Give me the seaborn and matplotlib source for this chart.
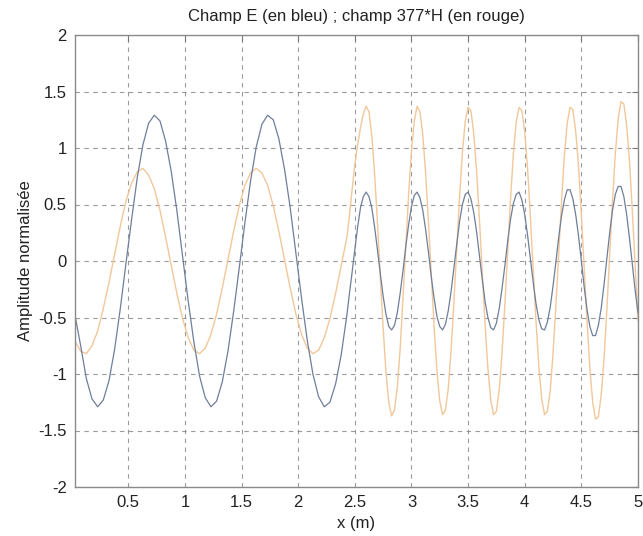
import numpy as np
import pandas as pd
import matplotlib
matplotlib.use('Agg')
import matplotlib.pyplot as plt
import seaborn as sns

# sample positions (m): coarse grid in the first medium, finer grid after x = 2.45
x_left = np.round(np.arange(0.03, 2.44, 0.05), 3)
x_right = np.round(np.arange(2.45, 5.001, 0.025), 3)

# champ E (bleu)
E_left = [-0.48, -0.75, -1.04, -1.22, -1.29, -1.23, -1.06, -0.78, -0.42, -0.02,
          0.37, 0.74, 1.03, 1.22, 1.29, 1.24, 1.06, 0.79, 0.44, 0.04,
          -0.36, -0.72, -1.02, -1.21, -1.29, -1.24, -1.07, -0.80, -0.45, -0.06,
          0.34, 0.71, 1.01, 1.21, 1.29, 1.25, 1.08, 0.81, 0.47, 0.07,
          -0.33, -0.70, -1.00, -1.20, -1.29, -1.25, -1.09, -0.83, -0.48]
E_right = [-0.31, -0.11, 0.10, 0.30, 0.47, 0.57, 0.61, 0.57, 0.47, 0.30,
           0.10, -0.11, -0.31, -0.47, -0.58, -0.61, -0.57, -0.46, -0.29, -0.09,
           0.13, 0.32, 0.48, 0.58, 0.61, 0.56, 0.45, 0.28, 0.08, -0.14,
           -0.33, -0.49, -0.58, -0.61, -0.56, -0.44, -0.27, -0.06, 0.15, 0.35,
           0.50, 0.59, 0.61, 0.55, 0.43, 0.26, 0.05, -0.16, -0.36, -0.50,
           -0.59, -0.61, -0.55, -0.42, -0.24, -0.04, 0.18, 0.37, 0.51, 0.59,
           0.61, 0.54, 0.41, 0.23, 0.02, -0.19, -0.38, -0.52, -0.60, -0.61,
           -0.54, -0.41, -0.22, -0.01, 0.21, 0.40, 0.54, 0.63, 0.63, 0.55,
           0.41, 0.22, 0.00, -0.23, -0.43, -0.58, -0.66, -0.66, -0.57, -0.42,
           -0.21, 0.02, 0.25, 0.45, 0.59, 0.66, 0.66, 0.57, 0.41, 0.20,
           -0.03, -0.26, -0.46]

# champ 377*H (rouge)
H_left = [-0.71, -0.80, -0.82, -0.75, -0.62, -0.42, -0.19, 0.06, 0.31, 0.53,
          0.69, 0.79, 0.82, 0.76, 0.64, 0.45, 0.21, -0.04, -0.29, -0.51,
          -0.68, -0.79, -0.82, -0.77, -0.65, -0.47, -0.24, 0.01, 0.26, 0.49,
          0.67, 0.78, 0.82, 0.78, 0.67, 0.49, 0.26, 0.01, -0.24, -0.47,
          -0.65, -0.77, -0.82, -0.79, -0.68, -0.51, -0.29, -0.04, 0.21]
H_right = [0.38, 0.62, 0.85, 1.03, 1.18, 1.30, 1.37, 1.32, 1.11, 0.77,
           0.34, -0.14, -0.59, -0.98, -1.25, -1.37, -1.32, -1.12, -0.78, -0.34,
           0.13, 0.59, 0.97, 1.24, 1.37, 1.32, 1.12, 0.78, 0.35, -0.12,
           -0.58, -0.97, -1.24, -1.36, -1.32, -1.13, -0.79, -0.36, 0.11, 0.57,
           0.96, 1.24, 1.36, 1.33, 1.13, 0.80, 0.37, -0.10, -0.56, -0.95,
           -1.23, -1.36, -1.33, -1.14, -0.81, -0.38, 0.09, 0.55, 0.95, 1.23,
           1.36, 1.33, 1.14, 0.82, 0.39, -0.08, -0.54, -0.94, -1.22, -1.36,
           -1.33, -1.15, -0.82, -0.40, 0.07, 0.53, 0.93, 1.22, 1.36, 1.34,
           1.15, 0.84, 0.41, -0.06, -0.53, -0.95, -1.25, -1.40, -1.38, -1.19,
           -0.86, -0.43, 0.06, 0.54, 0.95, 1.26, 1.41, 1.39, 1.20, 0.88,
           0.44, -0.05, -0.53]

x_ticks = [0.5, 1, 1.5, 2, 2.5, 3, 3.5, 4, 4.5, 5]
y_ticks = [-2, -1.5, -1, -0.5, 0, 0.5, 1, 1.5, 2]

df = pd.DataFrame({
    'x': np.concatenate([x_left, x_right]),
    'E': E_left + E_right,
    'H': H_left + H_right,
})

sns.set_style('white')
plt.rcParams['font.family'] = ['Liberation Sans', 'DejaVu Sans']

fig = plt.figure(figsize=(6.43, 5.36), dpi=100)
ax = fig.add_axes([75 / 643, 49 / 536, 563 / 643, 452 / 536])

sns.lineplot(data=df, x='x', y='H', color='#f2c79a', linewidth=1.0,
             estimator=None, sort=False, ax=ax)
sns.lineplot(data=df, x='x', y='E', color='#6f7e9a', linewidth=0.9,
             estimator=None, sort=False, ax=ax)

ax.set_xlim(0.03, 5)
ax.set_ylim(-2, 2)
ax.set_xticks(x_ticks)
ax.set_xticklabels([f'{t:g}' for t in x_ticks])
ax.set_yticks(y_ticks)
ax.set_yticklabels([f'{t:g}' for t in y_ticks])
ax.tick_params(labelsize=12, colors='#222222', direction='in', length=4,
               top=True, right=True, pad=6)
ax.tick_params(axis='both', color='#777777')

ax.grid(True, color='#7a7a7a', linestyle=(0, (4, 4)), linewidth=0.8, alpha=0.75)
for s in ax.spines.values():
    s.set_color('#8a8a8a')
    s.set_linewidth(1.0)

ax.set_title('Champ E (en bleu) ; champ 377*H (en rouge)', fontsize=12,
             color='#222222', pad=10)
ax.set_xlabel('x (m)', fontsize=12, color='#222222', labelpad=4)
ax.set_ylabel('Amplitude normalisée', fontsize=12, color='#222222', labelpad=4)

fig.savefig('out.png', dpi=100)
